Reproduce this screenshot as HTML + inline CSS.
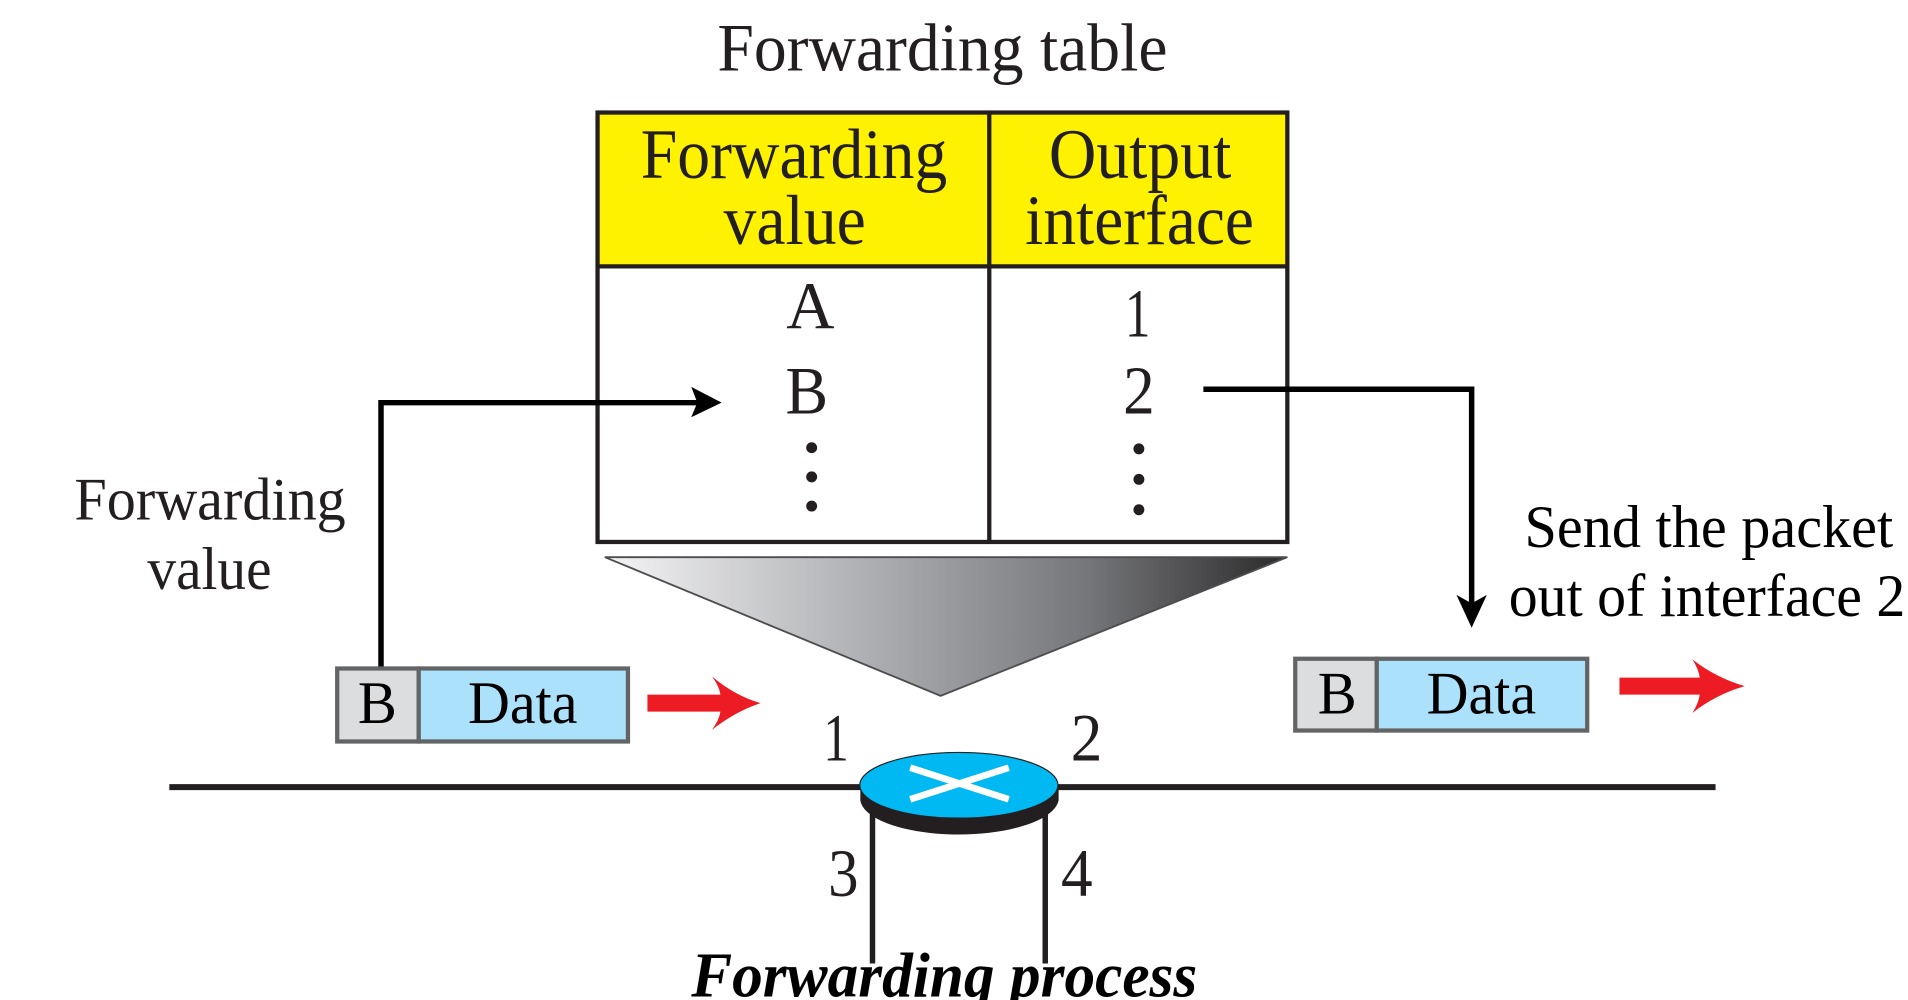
<!DOCTYPE html>
<html>
<head>
<meta charset="utf-8">
<style>
html,body{margin:0;padding:0;background:#fff;width:1908px;height:1000px;overflow:hidden}
svg{display:block}
text{font-family:"Liberation Serif",serif;fill:#231f20;text-anchor:middle}
</style>
</head>
<body>
<svg width="1908" height="1000" viewBox="0 0 1568 822" xmlns="http://www.w3.org/2000/svg">
<defs>
<linearGradient id="g" x1="0" x2="1" y1="0" y2="0">
<stop offset="0" stop-color="#f4f4f5"/>
<stop offset="0.35" stop-color="#b4b5b8"/>
<stop offset="0.7" stop-color="#77787b"/>
<stop offset="1" stop-color="#2b2a2b"/>
</linearGradient>
</defs>

<text x="774.500" y="58" font-size="56" textLength="370" lengthAdjust="spacingAndGlyphs">Forwarding table</text>

<!-- table -->
<rect x="491" y="92.500" width="567" height="126" fill="#fff200"/>
<rect x="491" y="92.500" width="567" height="353" fill="none" stroke="#231f20" stroke-width="3.500"/>
<line x1="491" y1="219" x2="1058" y2="219" stroke="#231f20" stroke-width="3.500"/>
<line x1="813" y1="92" x2="813" y2="446" stroke="#231f20" stroke-width="3.500"/>

<text x="652.500" y="146.500" font-size="58" textLength="252" lengthAdjust="spacingAndGlyphs">Forwarding</text>
<text x="653" y="200.500" font-size="58" textLength="117" lengthAdjust="spacingAndGlyphs">value</text>
<text x="937" y="146.500" font-size="58" textLength="150" lengthAdjust="spacingAndGlyphs">Output</text>
<text x="936.500" y="200.500" font-size="58" textLength="188" lengthAdjust="spacingAndGlyphs">interface</text>

<text x="666" y="269.500" font-size="55">A</text>
<text x="935" y="276.500" font-size="57" textLength="21" lengthAdjust="spacingAndGlyphs">1</text>
<text x="663" y="340" font-size="56" textLength="35" lengthAdjust="spacingAndGlyphs">B</text>
<text x="936" y="340" font-size="57" textLength="26" lengthAdjust="spacingAndGlyphs">2</text>

<g fill="#231f20">
<circle cx="667" cy="368" r="4.500"/><circle cx="667" cy="392" r="4.500"/><circle cx="667" cy="416" r="4.500"/>
<circle cx="936" cy="369" r="4.500"/><circle cx="936" cy="394" r="4.500"/><circle cx="936" cy="419" r="4.500"/>
</g>

<!-- connectors -->
<path d="M313 549 V331 H574" fill="none" stroke="#000" stroke-width="4.500"/>
<path d="M593 331 L568 318 L573 331 L568 343 Z" fill="#000"/>
<path d="M989 320 H1209.500 V498" fill="none" stroke="#000" stroke-width="4.500"/>
<path d="M1209.500 516 L1197 489 L1209.500 496 L1222 489 Z" fill="#000"/>

<text x="172.500" y="427" font-size="50" textLength="223" lengthAdjust="spacingAndGlyphs">Forwarding</text>
<text x="172" y="484" font-size="50" textLength="102" lengthAdjust="spacingAndGlyphs">value</text>
<text x="1404.500" y="449.500" font-size="50" textLength="303" lengthAdjust="spacingAndGlyphs" style="fill:#000">Send the packet</text>
<text x="1403" y="506.500" font-size="50" textLength="326" lengthAdjust="spacingAndGlyphs" style="fill:#000">out of interface 2</text>

<!-- funnel -->
<polygon points="497,458 1058,458 773,572" fill="url(#g)" stroke="#4d4d4f" stroke-width="1.500"/>

<!-- left packet -->
<rect x="277" y="549.500" width="67" height="60" fill="#dcddde" stroke="#636466" stroke-width="3.500"/>
<rect x="344" y="549.500" width="172" height="60" fill="#abe1fa" stroke="#636466" stroke-width="3.500"/>
<text x="310" y="594.500" font-size="50" textLength="32" lengthAdjust="spacingAndGlyphs" style="fill:#000">B</text>
<text x="429.500" y="594.500" font-size="50" textLength="90" lengthAdjust="spacingAndGlyphs" style="fill:#000">Data</text>
<path d="M532 571 H592 Q591 564 585 556 Q604 572 625 578 Q604 585 585 600 Q591 592 592 585 H532 Z" fill="#ed1c24"/>

<!-- right packet -->
<rect x="1064.500" y="541.500" width="67" height="59" fill="#dcddde" stroke="#636466" stroke-width="3.500"/>
<rect x="1131.500" y="541.500" width="173" height="59" fill="#abe1fa" stroke="#636466" stroke-width="3.500"/>
<text x="1099" y="586.500" font-size="50" textLength="32" lengthAdjust="spacingAndGlyphs" style="fill:#000">B</text>
<text x="1217.500" y="586.500" font-size="50" textLength="90" lengthAdjust="spacingAndGlyphs" style="fill:#000">Data</text>
<path d="M1331 557 H1397 Q1396 550 1391 542 Q1410 557 1434 564 Q1410 571 1391 586 Q1396 578 1397 571 H1331 Z" fill="#ed1c24"/>

<!-- network lines -->
<line x1="139" y1="647" x2="1410" y2="647" stroke="#231f20" stroke-width="5"/>
<line x1="717" y1="668" x2="717" y2="792" stroke="#231f20" stroke-width="4.500"/>
<line x1="859" y1="668" x2="859" y2="792" stroke="#231f20" stroke-width="4.500"/>

<!-- router -->
<path d="M707 646 V658 C710 675 748 686 788 686 C828 686 866 675 870 658 V646 Z" fill="#231f20"/>
<ellipse cx="788" cy="645.500" rx="81.500" ry="27" fill="#00b9f2" stroke="#231f20" stroke-width="1"/>
<path d="M748 632 L829 658 M748 658 L829 632" stroke="#fff" stroke-width="5.500" fill="none" transform="translate(0 -1)"/>

<text x="687" y="625" font-size="56" textLength="21" lengthAdjust="spacingAndGlyphs">1</text>
<text x="893" y="625" font-size="56" textLength="26" lengthAdjust="spacingAndGlyphs">2</text>
<text x="693" y="736.500" font-size="56" textLength="25" lengthAdjust="spacingAndGlyphs">3</text>
<text x="885" y="736.500" font-size="56" textLength="26" lengthAdjust="spacingAndGlyphs">4</text>

<text x="776" y="819" font-size="52" font-weight="bold" font-style="italic" textLength="416" lengthAdjust="spacingAndGlyphs" style="fill:#000">Forwarding process</text>
</svg>
</body>
</html>
